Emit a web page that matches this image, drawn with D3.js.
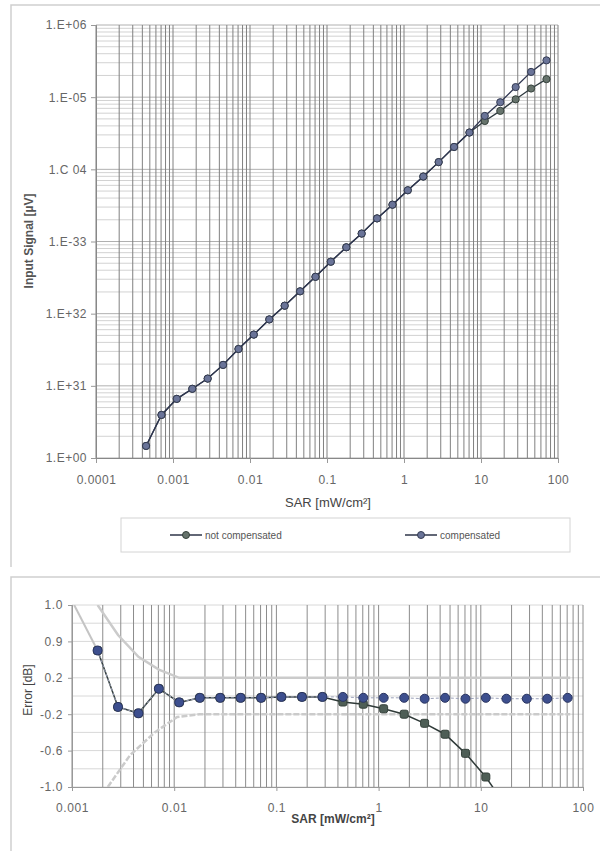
<!DOCTYPE html>
<html><head><meta charset="utf-8">
<script src="https://cdn.jsdelivr.net/npm/d3@7"></script>
<style>
html,body{margin:0;padding:0;background:#fff;}
svg{display:block;font-family:"Liberation Sans",Arial,sans-serif;}
</style></head>
<body>
<svg id="c" width="600" height="851"></svg>
<script>
// ---------- DATA ----------
const sar = [0.000447,0.000708,0.00112,0.00178,0.00282,0.00447,0.00708,0.0112,0.0178,0.0282,0.0447,0.0708,0.112,0.178,0.282,0.447,0.708,1.12,1.78,2.82,4.47,7.08,11.2,17.8,28.2,44.7,70.8];
const signalNotComp = [1.47,3.95,6.6,9.1,12.6,19.5,32.4,51.3,83.2,129,204,324,525,832,1288,2089,3236,5129,7943,12590,20420,32360,46770,64570,93330,131800,177800];
const signalComp    = [1.47,3.95,6.6,9.1,12.6,19.5,32.4,51.3,83.2,129,204,324,525,832,1288,2089,3236,5129,7943,12590,20420,32360,54950,85110,138000,223900,323600];
const errSar = [0.00178,0.00282,0.00447,0.00708,0.0112,0.0178,0.0282,0.0447,0.0708,0.112,0.178,0.282,0.447,0.708,1.12,1.78,2.82,4.47,7.08,11.2,17.8,28.2,44.7,70.8];
const errComp    = [0.50,-0.12,-0.19,0.08,-0.07,-0.02,-0.02,-0.02,-0.02,-0.01,-0.01,-0.01,-0.01,-0.02,-0.02,-0.02,-0.03,-0.02,-0.03,-0.02,-0.03,-0.03,-0.03,-0.02];
const errNotComp = [0.50,-0.12,-0.19,0.08,-0.07,-0.02,-0.02,-0.02,-0.02,-0.01,-0.01,-0.01,-0.066,-0.09,-0.14,-0.20,-0.30,-0.42,-0.63,-0.89,-1.22];
const upperSar = [0.00178,0.00282,0.00447,0.00708,0.0112,75];
const upperVal = [1.0,0.67,0.43,0.29,0.2,0.2];
const lowerSar = [0.00224,0.0037,0.00645,0.0107,0.0178,75];
const lowerVal = [-1.0,-0.65,-0.40,-0.23,-0.2,-0.2];
const edgeSar = [0.00105,0.00178];
const edgeVal = [1.0,0.50];
const topXTicks = [0.0001,0.001,0.01,0.1,1,10,100];
const topXLabels = ["0.0001","0.001","0.01","0.1","1","10","100"];
const topYTicks = [1,10,100,1000,10000,100000,1000000];
const topYLabels = ["1.E+00","1.E+31","1.E+32","1.E-33","1.C 04","1.E-05","1.E+06"];
const botXTicks = [0.001,0.01,0.1,1,10,100];
const botXLabels = ["0.001","0.01","0.1","1","10","100"];
const botYTicks = [1.0,0.6,0.2,-0.2,-0.6,-1.0];
const botYLabels = ["1.0","0.9","0.2","-0.2","-0.6","-1.0"];
const seriesNames = ["not compensated","compensated"];

// ---------- DRAW ----------
const svg = d3.select("#c");
const grey = "#666";

// panel frames
svg.append("path").attr("d","M11,567V5H600").attr("fill","none").attr("stroke","#cfcfcf").attr("stroke-width",1.5);
svg.append("path").attr("d","M11,851V577H600").attr("fill","none").attr("stroke","#cfcfcf").attr("stroke-width",1.5);

// ===== TOP CHART =====
const xT = d3.scaleLog().domain([1e-4,100]).range([96,558]);
const yT = d3.scaleLog().domain([1,1e6]).range([458,25]);
const gT = svg.append("g");
gT.selectAll("line.hg").data(yT.ticks()).join("line")
  .attr("x1",96).attr("x2",558).attr("y1",d=>yT(d)).attr("y2",d=>yT(d))
  .attr("stroke",d=>topYTicks.includes(d)?"#b0b0b0":"#d2d2d2").attr("stroke-width",1);
gT.selectAll("line.vg").data(xT.ticks()).join("line")
  .attr("x1",d=>xT(d)).attr("x2",d=>xT(d)).attr("y1",25).attr("y2",458)
  .attr("stroke","#808080").attr("stroke-width",1);
const axTX = gT.append("g").attr("transform","translate(0,458)")
  .call(d3.axisBottom(xT).tickValues(topXTicks).tickFormat((d,i)=>topXLabels[i]).tickSize(5).tickPadding(12));
const axTY = gT.append("g").attr("transform","translate(96,0)")
  .call(d3.axisLeft(yT).tickValues(topYTicks).tickFormat((d,i)=>topYLabels[i]).tickSize(5).tickPadding(4));
[axTX,axTY].forEach(a=>{
  a.select(".domain").attr("stroke","#888");
  a.selectAll(".tick line").attr("stroke","#999");
  a.selectAll("text").attr("fill",grey).attr("font-size",12).attr("letter-spacing","0.5px");
});
const lineT = d3.line().x(d=>xT(d[0])).y(d=>yT(d[1]));
const ncT = sar.map((s,i)=>[s,signalNotComp[i]]);
const cT = sar.map((s,i)=>[s,signalComp[i]]);
gT.append("path").attr("d",lineT(ncT)).attr("fill","none").attr("stroke","#2f3a40").attr("stroke-width",1.3);
gT.append("path").attr("d",lineT(cT)).attr("fill","none").attr("stroke","#2e3550").attr("stroke-width",1.3);
gT.selectAll("circle.nc").data(ncT).join("circle").attr("cx",d=>xT(d[0])).attr("cy",d=>yT(d[1])).attr("r",3.6)
  .attr("fill","#66736c").attr("stroke","#34403a").attr("stroke-width",1);
gT.selectAll("circle.c").data(cT).join("circle").attr("cx",d=>xT(d[0])).attr("cy",d=>yT(d[1])).attr("r",3.6)
  .attr("fill","#6a7498").attr("stroke","#343b52").attr("stroke-width",1);
svg.append("text").attr("x",328).attr("y",507).attr("text-anchor","middle").attr("font-size",13).attr("fill","#444")
  .text("SAR [mW/cm²]");
svg.append("text").attr("transform","translate(33,241) rotate(-90)").attr("text-anchor","middle")
  .attr("font-size",12).attr("font-weight","bold").attr("fill","#555").text("Input Signal [µV]");
svg.append("rect").attr("x",121).attr("y",518).attr("width",449).attr("height",34).attr("fill","#fff").attr("stroke","#d4d4d4");
const lg = [{x:170,name:seriesNames[0],fill:"#66736c",stroke:"#34403a"},{x:405,name:seriesNames[1],fill:"#6a7498",stroke:"#343b52"}];
lg.forEach(l=>{
  svg.append("line").attr("x1",l.x).attr("x2",l.x+32).attr("y1",535).attr("y2",535).attr("stroke","#2e3548").attr("stroke-width",1.5);
  svg.append("circle").attr("cx",l.x+16).attr("cy",535).attr("r",3.5).attr("fill",l.fill).attr("stroke",l.stroke);
  svg.append("text").attr("x",l.x+35).attr("y",539).attr("font-size",10).attr("fill","#555").text(l.name);
});

// ===== BOTTOM CHART =====
const xB = d3.scaleLog().domain([1e-3,100]).range([72,583]);
const yB = d3.scaleLinear().domain([-1,1]).range([787,605]);
const gB = svg.append("g");
gB.append("clipPath").attr("id","clipB").append("rect").attr("x",72).attr("y",605).attr("width",511).attr("height",182);
gB.selectAll("line.hg").data(d3.range(-1,1.01,0.2)).join("line")
  .attr("x1",72).attr("x2",583).attr("y1",d=>yB(d)).attr("y2",d=>yB(d)).attr("stroke","#d8d8d8");
gB.selectAll("line.vg").data(xB.ticks()).join("line")
  .attr("x1",d=>xB(d)).attr("x2",d=>xB(d)).attr("y1",605).attr("y2",787).attr("stroke","#8c8c8c");
const axBX = gB.append("g").attr("transform","translate(0,787)")
  .call(d3.axisBottom(xB).tickValues(botXTicks).tickFormat((d,i)=>botXLabels[i]).tickSize(4).tickPadding(12));
const axBY = gB.append("g").attr("transform","translate(72,0)")
  .call(d3.axisLeft(yB).tickValues(botYTicks).tickFormat((d,i)=>botYLabels[i]).tickSize(4).tickPadding(5));
[axBX,axBY].forEach(a=>{
  a.select(".domain").attr("stroke","#999");
  a.selectAll(".tick line").attr("stroke","#999");
  a.selectAll("text").attr("fill",grey).attr("font-size",12).attr("letter-spacing","0.6px");
});
const lineB = d3.line().x(d=>xB(d[0])).y(d=>yB(d[1]));
const gClip = gB.append("g").attr("clip-path","url(#clipB)");
gClip.append("path").attr("d",lineB(upperSar.map((s,i)=>[s,upperVal[i]]))).attr("fill","none").attr("stroke","#cbcbcb").attr("stroke-width",2.5);
gClip.append("path").attr("d",lineB(lowerSar.map((s,i)=>[s,lowerVal[i]]))).attr("fill","none").attr("stroke","#cbcbcb").attr("stroke-width",2.5).attr("stroke-dasharray","6,2");
gClip.append("path").attr("d",lineB(edgeSar.map((s,i)=>[s,edgeVal[i]]))).attr("fill","none").attr("stroke","#c4c4c4").attr("stroke-width",2);
const ncB = errNotComp.map((v,i)=>[errSar[i],v]);
const cB = errComp.map((v,i)=>[errSar[i],v]);
gClip.append("path").attr("d",lineB(ncB)).attr("fill","none").attr("stroke","#2f3a38").attr("stroke-width",1.5);
gClip.append("path").attr("d",lineB(cB)).attr("fill","none").attr("stroke","#9aa0b8").attr("stroke-width",1).attr("stroke-dasharray","3,2");
gClip.selectAll("rect.nc").data(ncB).join("rect").attr("x",d=>xB(d[0])-4).attr("y",d=>yB(d[1])-4).attr("width",8).attr("height",8).attr("rx",2)
  .attr("fill","#4e5e56").attr("stroke","#34403a");
gClip.selectAll("circle.c").data(cB).join("circle").attr("cx",d=>xB(d[0])).attr("cy",d=>yB(d[1])).attr("r",4.5)
  .attr("fill","#3d4f8e").attr("stroke","#2a3560");
svg.append("text").attr("x",333).attr("y",823).attr("text-anchor","middle").attr("font-size",12).attr("font-weight","bold").attr("fill","#444")
  .text("SAR [mW/cm²]");
svg.append("text").attr("transform","translate(32,690) rotate(-90)").attr("text-anchor","middle")
  .attr("font-size",12).attr("fill","#444").text("Error [dB]");
</script>
</body></html>
